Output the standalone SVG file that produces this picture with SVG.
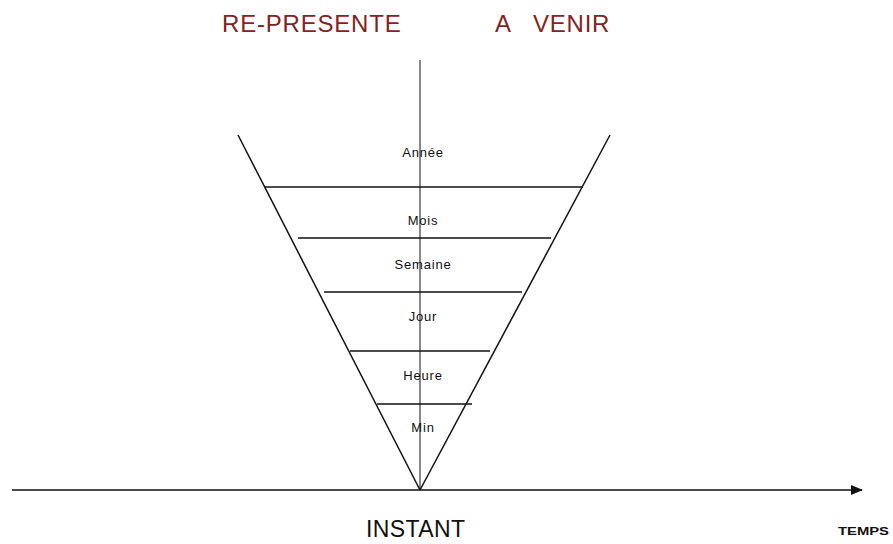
<svg xmlns="http://www.w3.org/2000/svg" width="893" height="544" viewBox="0 0 893 544">
<style>
.ln{stroke:#111;stroke-width:1.5;fill:none}
.lbl{font-family:"Liberation Sans",Arial,sans-serif;font-size:13px;letter-spacing:0.8px;fill:#111;text-anchor:middle}
.title{font-family:"Liberation Sans",Arial,sans-serif;font-size:24px;letter-spacing:0.8px;fill:#7f2424}
</style>
<defs>
<marker id="arr" markerWidth="12" markerHeight="10" refX="11" refY="5" orient="auto" markerUnits="userSpaceOnUse">
<path d="M0,0 L12,5 L0,10 Z" fill="#111"/>
</marker>
</defs>
<rect width="893" height="544" fill="#fff"/>
<g id="titles">
<text class="title" x="222" y="32">RE-PRESENTE</text>
<text class="title" x="495" y="32" xml:space="preserve">A   VENIR</text>
</g>
<g id="connectors">
<line class="ln" x1="420" y1="60" x2="420" y2="490" style="stroke-width:1"/>
<line class="ln" x1="238" y1="135" x2="420" y2="490"/>
<line class="ln" x1="610" y1="135" x2="420" y2="490"/>
<line class="ln" x1="12" y1="490" x2="862" y2="490" marker-end="url(#arr)"/>
<line class="ln" x1="265" y1="187" x2="583" y2="187"/>
<line class="ln" x1="298" y1="238" x2="551" y2="238"/>
<line class="ln" x1="324" y1="292" x2="522" y2="292"/>
<line class="ln" x1="350" y1="351" x2="490" y2="351"/>
<line class="ln" x1="377" y1="404" x2="472" y2="404"/>
</g>
<g id="annee"><text class="lbl" x="423" y="157">Année</text></g>
<g id="mois"><text class="lbl" x="423" y="225">Mois</text></g>
<g id="semaine"><text class="lbl" x="423" y="269">Semaine</text></g>
<g id="jour"><text class="lbl" x="423" y="321">Jour</text></g>
<g id="heure"><text class="lbl" x="423" y="380">Heure</text></g>
<g id="min"><text class="lbl" x="423" y="432">Min</text></g>
<g id="instant"><text x="366" y="537" textLength="99" style="font-family:'Liberation Sans',Arial,sans-serif;font-size:23px;fill:#111">INSTANT</text></g>
<g id="temps"><text x="838" y="535" textLength="51" lengthAdjust="spacingAndGlyphs" style="font-family:'Liberation Sans',Arial,sans-serif;font-size:10px;font-weight:bold;fill:#111">TEMPS</text></g>
</svg>
